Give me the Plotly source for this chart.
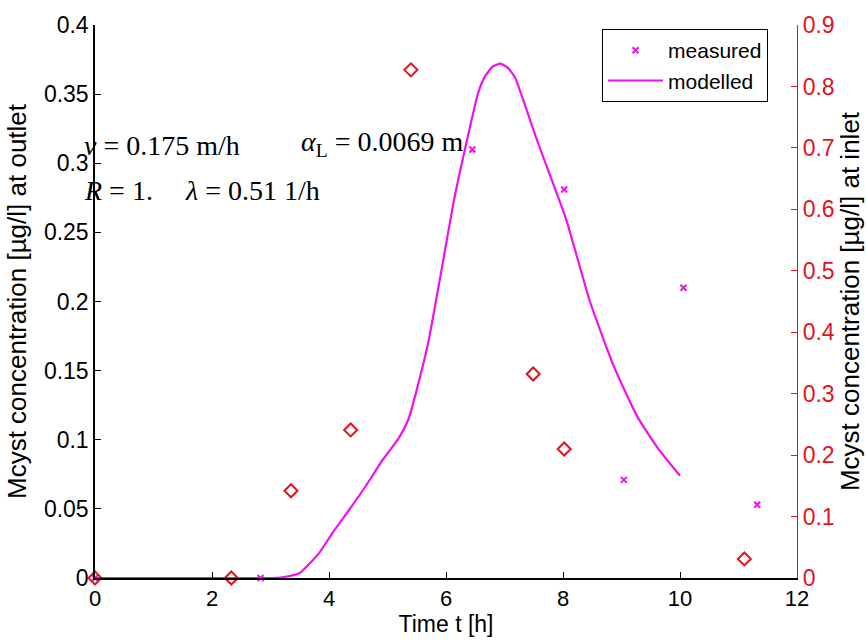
import plotly.graph_objects as go

# Measured outlet concentration (left axis)
meas_t = [0.0, 2.83, 6.45, 8.02, 9.04, 10.06, 11.32]
meas_c = [0.0, 0.0, 0.310, 0.281, 0.071, 0.210, 0.053]

# Modelled outlet concentration (left axis)
model_t = [0.0, 1.0, 2.0, 3.0, 3.2, 3.5, 3.83, 4.05, 4.34, 4.62, 4.91, 5.19, 5.36,
           5.53, 5.70, 5.92, 6.13, 6.35, 6.55, 6.67, 6.80, 6.93, 7.06, 7.18, 7.35,
           7.57, 8.05, 8.46, 8.88, 9.28, 9.62, 10.0]
model_c = [0.0, 0.0, 0.0, 0.0, 0.0005, 0.0036, 0.018, 0.032, 0.049, 0.066, 0.085,
           0.101, 0.115, 0.141, 0.171, 0.222, 0.272, 0.315, 0.351, 0.363, 0.370,
           0.372, 0.369, 0.362, 0.342, 0.315, 0.260, 0.200, 0.152, 0.116, 0.094, 0.074]

# Inlet concentration (right axis)
inlet_t = [0.0, 2.33, 3.35, 4.37, 5.40, 7.49, 8.02, 11.10]
inlet_c = [0.0, 0.0, 0.142, 0.241, 0.827, 0.332, 0.210, 0.031]

x_ticks = [0, 2, 4, 6, 8, 10, 12]

MAGENTA = "#f010f0"
RED = "#e3121e"
SANS = "Liberation Sans, Arial, sans-serif"
SERIF = "Liberation Serif, Times New Roman, serif"

fig = go.Figure()

fig.add_trace(go.Scatter(
    x=inlet_t, y=inlet_c, yaxis="y2", mode="markers", showlegend=False,
    marker=dict(symbol="diamond-open", size=10, color=RED, line=dict(width=2, color=RED)),
    cliponaxis=False,
))
fig.add_trace(go.Scatter(
    x=model_t, y=model_c, mode="lines", name="modelled",
    line=dict(color=MAGENTA, width=2.2, shape="spline", smoothing=0.5),
    cliponaxis=False,
))
fig.add_trace(go.Scatter(
    x=meas_t, y=meas_c, mode="markers", name="measured",
    marker=dict(symbol="x-thin", size=6, color=MAGENTA, line=dict(width=2, color=MAGENTA)),
    cliponaxis=False,
))

fig.update_layout(
    width=866, height=641,
    margin=dict(l=95, r=66, t=22, b=63),
    paper_bgcolor="white", plot_bgcolor="white",
    font=dict(family=SANS, size=20, color="black"),
    xaxis=dict(
        range=[0, 12], tickvals=x_ticks, ticktext=[str(v) for v in x_ticks],
        showline=True, linecolor="black", linewidth=1.5,
        ticks="inside", ticklen=6, tickcolor="black",
        showgrid=False, zeroline=False,
        tickfont=dict(size=22, family=SANS, color="black"),
        title=dict(text="Time t [h]", font=dict(size=23), standoff=2),
    ),
    yaxis=dict(
        range=[0, 0.4], dtick=0.05,
        showline=True, linecolor="black", linewidth=1.5,
        ticks="inside", ticklen=6, tickcolor="black",
        showgrid=False, zeroline=False,
        tickfont=dict(size=23, family=SANS, color="black"),
        title=dict(text="Mcyst concentration [µg/l] at outlet", font=dict(size=26), standoff=10),
    ),
    yaxis2=dict(
        range=[0, 0.9], dtick=0.1, overlaying="y", side="right",
        showline=True, linecolor=RED, linewidth=1.2,
        ticks="inside", ticklen=6, tickcolor=RED,
        showgrid=False, zeroline=False,
        tickfont=dict(size=23, family=SANS, color=RED),
        title=dict(text="Mcyst concentration [µg/l] at inlet",
                   font=dict(size=26, color="black"), standoff=1),
    ),
    legend=dict(
        x=0.722, y=0.993, xanchor="left", yanchor="top",
        bordercolor="black", borderwidth=1.2, bgcolor="white",
        font=dict(size=21, family=SANS, color="black"),
        traceorder="reversed", tracegroupgap=0, itemwidth=55,
    ),
)

# Parameter annotations
params = [
    ("<i>v</i> = 0.175 m/h", -0.018, 0.782),
    ("<i>α</i><sub>L</sub> = 0.0069 m", 0.291, 0.785),
    ("<i>R</i> = 1.", -0.018, 0.701),
    ("<i>λ</i> = 0.51 1/h", 0.125, 0.701),
]
for text, px, py in params:
    fig.add_annotation(
        text=text, xref="paper", yref="paper", x=px, y=py,
        xanchor="left", yanchor="middle", showarrow=False,
        font=dict(family=SERIF, size=28, color="black"),
    )

fig.write_html("out.html")
